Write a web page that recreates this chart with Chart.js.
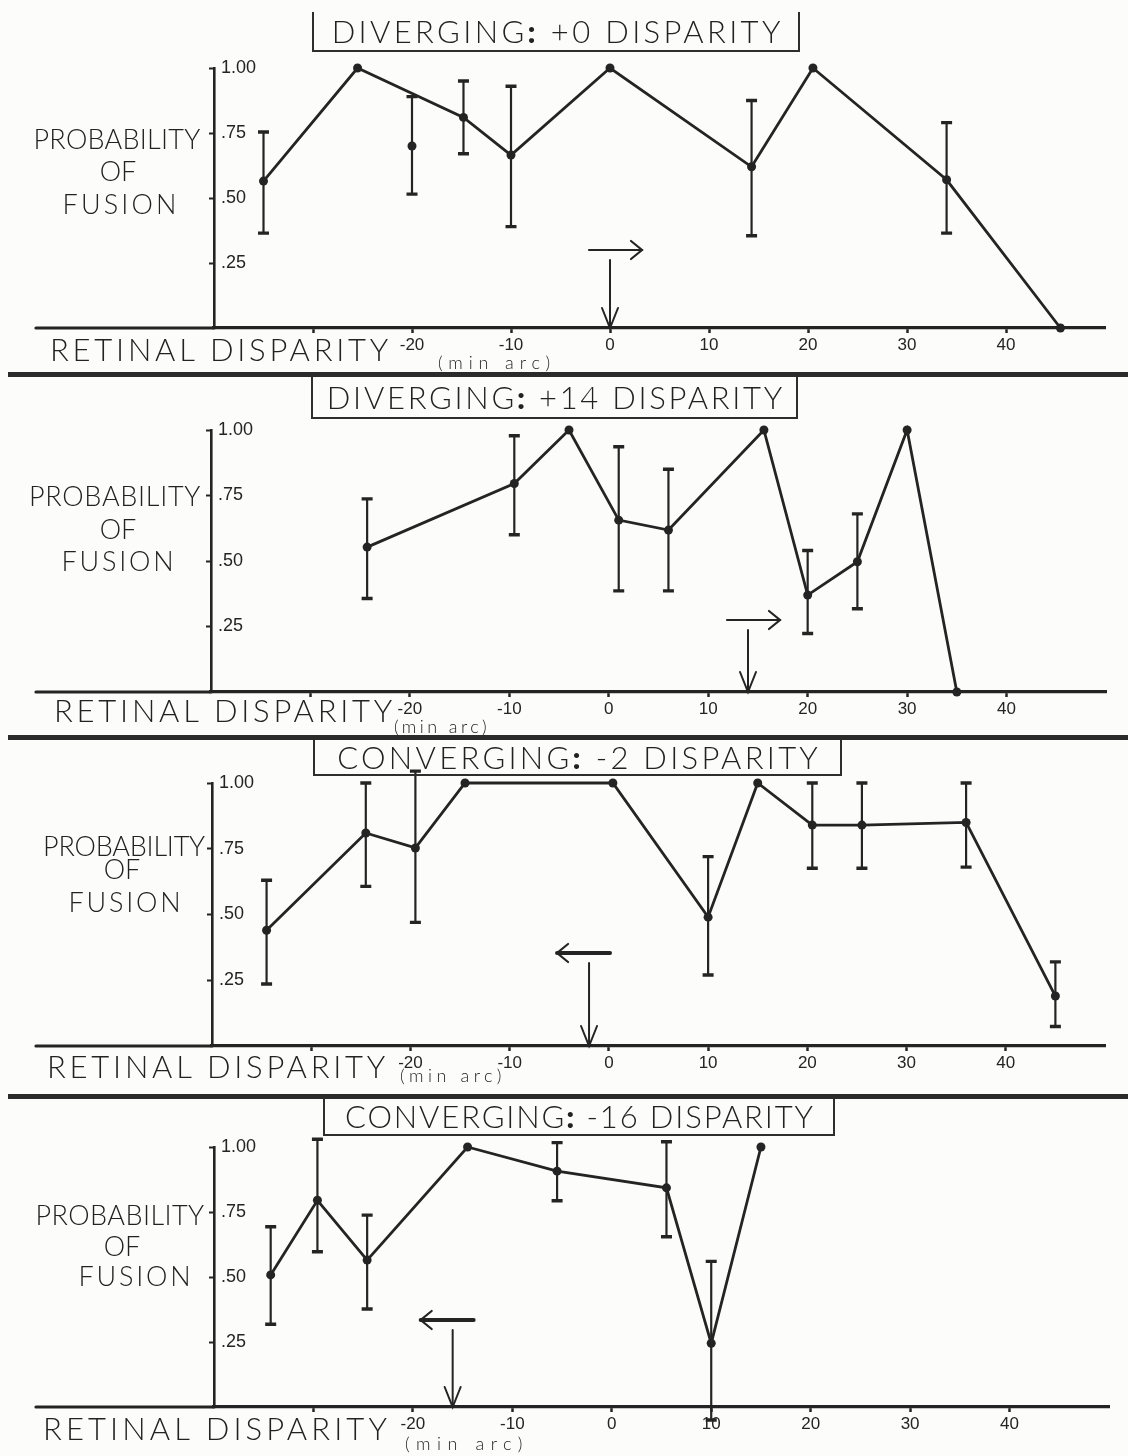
<!DOCTYPE html>
<html>
<head>
<meta charset="utf-8">
<script src="https://cdn.jsdelivr.net/npm/chart.js@4.4.1/dist/chart.umd.min.js"></script>
<style>
html,body{margin:0;padding:0;background:#fcfcfb;}
#page{position:relative;width:1128px;height:1456px;overflow:hidden;font-family:"Lato","Liberation Sans",Arial,sans-serif;font-weight:300;color:#222;}
canvas{position:absolute;left:0;}
.sep{position:absolute;left:8px;width:1120px;height:5px;background:#2b2b2b;}
.box{position:absolute;border:2px solid #2e2e2e;border-top:none;box-sizing:border-box;display:flex;align-items:center;justify-content:center;}
.box span{font-size:31px;white-space:nowrap;line-height:31px;}
.box b{font-weight:900;}
.lab{position:absolute;white-space:nowrap;line-height:1;}
</style>
</head>
<body>
<div id="page"></div>
<script>
// ---------- tick labels / text ----------
const xTickValues = [-30, -20, -10, 0, 10, 20, 30, 40];
const xTickLabels = ['', '-20', '-10', '0', '10', '20', '30', '40'];
const yTickValues = [0.25, 0.5, 0.75, 1.0];
const yTickLabels = ['.25', '.50', '.75', '1.00'];
const panelTitles = ['DIVERGING: +0 DISPARITY', 'DIVERGING: +14 DISPARITY', 'CONVERGING: -2 DISPARITY', 'CONVERGING: -16 DISPARITY'];
const yAxisTitle = ['PROBABILITY', 'OF', 'FUSION'];
const xAxisTitle = 'RETINAL DISPARITY';
const xAxisUnit = '(min arc)';

// disparity marked by the arrow in each panel, and direction of the horizontal arrow
const arrowAt = [0, 14, -2, -16];
const arrowDir = ['right', 'right', 'left', 'left'];

// ---------- panel 1: DIVERGING +0 ----------
const p1X  = [-35, -25.5, -20, -14.8, -10, 0, 14.3, 20.5, 34, 45.5];
const p1Y  = [0.565, 1.0, 0.70, 0.81, 0.665, 1.0, 0.62, 1.0, 0.57, 0];
const p1Lo = [0.365, null, 0.515, 0.67, 0.39, null, 0.355, null, 0.365, null];
const p1Hi = [0.754, null, 0.89, 0.95, 0.93, null, 0.875, null, 0.79, null];
const p1OnLine = [true, true, false, true, true, true, true, true, true, true];

// ---------- panel 2: DIVERGING +14 ----------
const p2X  = [-24.3, -9.5, -4, 1, 6, 15.6, 20, 25, 30, 35];
const p2Y  = [0.553, 0.796, 1.0, 0.656, 0.618, 1.0, 0.37, 0.497, 1.0, 0];
const p2Lo = [0.357, 0.60, null, 0.386, 0.386, null, 0.223, 0.318, null, null];
const p2Hi = [0.737, 0.978, null, 0.936, 0.85, null, 0.54, 0.68, null, null];
const p2OnLine = [true, true, true, true, true, true, true, true, true, true];

// ---------- panel 3: CONVERGING -2 ----------
const p3X  = [-34.5, -24.5, -19.5, -14.5, 0.4, 10, 15, 20.5, 25.5, 36, 45];
const p3Y  = [0.44, 0.81, 0.753, 1.0, 1.0, 0.49, 1.0, 0.84, 0.84, 0.85, 0.19];
const p3Lo = [0.236, 0.607, 0.47, null, null, 0.27, null, 0.676, 0.676, 0.68, 0.074];
const p3Hi = [0.63, 1.0, 1.045, null, null, 0.72, null, 1.0, 1.0, 1.0, 0.32];
const p3OnLine = [true, true, true, true, true, true, true, true, true, true, true];

// ---------- panel 4: CONVERGING -16 ----------
const p4X  = [-34.3, -29.6, -24.6, -14.5, -5.5, 5.5, 10, 15];
const p4Y  = [0.508, 0.795, 0.565, 1.0, 0.907, 0.843, 0.245, 1.0];
const p4Lo = [0.318, 0.597, 0.377, null, 0.793, 0.655, -0.05, null];
const p4Hi = [0.693, 1.03, 0.738, null, 1.017, 1.02, 0.56, null];
const p4OnLine = [true, true, true, true, true, true, true, true];

const series = [
  {x: p1X, y: p1Y, lo: p1Lo, hi: p1Hi, on: p1OnLine},
  {x: p2X, y: p2Y, lo: p2Lo, hi: p2Hi, on: p2OnLine},
  {x: p3X, y: p3Y, lo: p3Lo, hi: p3Hi, on: p3OnLine},
  {x: p4X, y: p4Y, lo: p4Lo, hi: p4Hi, on: p4OnLine}
];

// ---------- page layout (pixels) ----------
const INK = '#242424';
const panels = [
  {top: 0,    h: 372, area: {l: 214, r: 1105, t: 68,   b: 328},
   box: {l: 312, t: 12, w: 488, h: 40}, tw: 452,
   prob: [117, 140, 167], of: [118, 172], fus: [121, 205, 117],
   ret: [50, 351, 342], unit: [438, 363, 118], vLen: 68, hw: 2.2},
  {top: 372,  h: 365, area: {l: 211, r: 1106, t: 430,  b: 692},
   box: {l: 311, t: 377, w: 487, h: 42}, tw: 458,
   prob: [115, 497, 172], of: [118, 530], fus: [119, 562, 115],
   ret: [54, 712, 342], unit: [394, 727, 96], vLen: 62, hw: 2.2},
  {top: 737,  h: 358, area: {l: 212, r: 1105, t: 783,  b: 1046},
   box: {l: 313, t: 740, w: 529, h: 36}, tw: 484,
   prob: [124, 847, 162], of: [122, 870], fus: [126, 903, 115],
   ret: [47, 1068, 342], unit: [400, 1076, 106], vLen: 83, hw: 4},
  {top: 1095, h: 361, area: {l: 214, r: 1109, t: 1147, b: 1407},
   box: {l: 323, t: 1099, w: 512, h: 37}, tw: 470,
   prob: [120, 1216, 169], of: [122, 1247], fus: [136, 1277, 115],
   ret: [43, 1430, 348], unit: [405, 1444, 124], vLen: 77, hw: 4}
];
const separators = [372, 735, 1094];

const page = document.getElementById('page');

function addLabel(text, size, x, cy, width, center) {
  const d = document.createElement('div');
  d.className = 'lab';
  d.textContent = text;
  d.style.fontSize = size + 'px';
  page.appendChild(d);
  const nat = d.getBoundingClientRect().width;
  if (width) {
    const ls = (width - nat) / text.length;
    d.style.letterSpacing = ls.toFixed(2) + 'px';
  }
  const w = d.getBoundingClientRect().width;
  d.style.left = (center ? x - w / 2 : x) + 'px';
  d.style.top = (cy - size * 0.55) + 'px';
  return d;
}

// error bars drawn through the chart scales
const errorBarPlugin = {
  id: 'errorBars',
  afterDatasetsDraw(chart) {
    const s = chart.canvas.$series;
    if (!s) return;
    const xs = chart.scales.x, ys = chart.scales.y, ctx = chart.ctx;
    ctx.save();
    ctx.strokeStyle = INK;
    s.x.forEach((xv, i) => {
      if (s.lo[i] == null) return;
      const px = xs.getPixelForValue(xv);
      const pl = ys.getPixelForValue(s.lo[i]);
      const ph = ys.getPixelForValue(s.hi[i]);
      ctx.lineWidth = 2.2;
      ctx.beginPath(); ctx.moveTo(px, pl); ctx.lineTo(px, ph); ctx.stroke();
      ctx.lineWidth = 3.4;
      ctx.beginPath();
      ctx.moveTo(px - 5.5, pl); ctx.lineTo(px + 5.5, pl);
      ctx.moveTo(px - 5.5, ph); ctx.lineTo(px + 5.5, ph);
      ctx.stroke();
    });
    ctx.restore();
  }
};

// arrows marking the disparity + the axis extension left of the y axis
const decorPlugin = {
  id: 'decor',
  afterDraw(chart) {
    const k = chart.canvas.$idx;
    if (k == null) return;
    const L = panels[k];
    const xs = chart.scales.x, ys = chart.scales.y, ctx = chart.ctx;
    const y0 = ys.getPixelForValue(0);
    ctx.save();
    ctx.strokeStyle = INK;
    ctx.lineCap = 'round';
    // x axis continues to the left of the y axis
    ctx.lineWidth = 3.2;
    ctx.beginPath(); ctx.moveTo(36, y0); ctx.lineTo(chart.chartArea.left, y0); ctx.stroke();
    // vertical arrow
    const px = xs.getPixelForValue(arrowAt[k]);
    const top = y0 - L.vLen;
    ctx.lineWidth = 2;
    ctx.beginPath(); ctx.moveTo(px, top); ctx.lineTo(px, y0); ctx.stroke();
    ctx.beginPath(); ctx.moveTo(px - 8, y0 - 20); ctx.lineTo(px, y0); ctx.lineTo(px + 8, y0 - 20); ctx.stroke();
    // horizontal arrow
    const hy = top - 10;
    const dir = arrowDir[k] === 'right' ? 1 : -1;
    const x1 = px - dir * 21, x2 = px + dir * 32;
    ctx.lineWidth = L.hw;
    ctx.beginPath(); ctx.moveTo(x1, hy); ctx.lineTo(x2, hy); ctx.stroke();
    ctx.lineWidth = 2.2;
    ctx.beginPath(); ctx.moveTo(x2 - dir * 11, hy - 9); ctx.lineTo(x2, hy); ctx.lineTo(x2 - dir * 11, hy + 9); ctx.stroke();
    ctx.restore();
  }
};

panels.forEach((L, k) => {
  const s = series[k];
  const cv = document.createElement('canvas');
  cv.width = 1128; cv.height = L.h;
  cv.style.top = L.top + 'px';
  cv.$series = s;
  cv.$idx = k;
  page.appendChild(cv);

  const pts = s.x.map((xv, i) => ({x: xv, y: s.y[i]}));
  const linePts = pts.filter((p, i) => s.on[i]);
  const opts = {
    responsive: false, animation: false, events: [],
    layout: {padding: {left: 200, right: 20, top: 60, bottom: 40}},
    plugins: {legend: {display: false}, tooltip: {enabled: false}},
    scales: {
      x: {
        type: 'linear', min: -40, max: 50, position: 'bottom',
        afterBuildTicks: sc => { sc.ticks = xTickValues.map(v => ({value: v})); },
        ticks: {
          autoSkip: false, maxRotation: 0, padding: 2,
          color: INK, font: {family: 'Liberation Sans', size: 17},
          callback: v => { const i = xTickValues.indexOf(v); return i < 0 ? '' : xTickLabels[i]; }
        },
        grid: {drawOnChartArea: false, tickLength: 5, tickWidth: 2.5, color: INK},
        border: {display: true, width: 3.2, color: INK}
      },
      y: {
        type: 'linear', min: 0, max: 1, position: 'left',
        afterBuildTicks: sc => { sc.ticks = yTickValues.map(v => ({value: v})); },
        ticks: {
          mirror: true, padding: 7,
          color: INK, font: {family: 'Liberation Sans', size: 18},
          callback: v => { const i = yTickValues.indexOf(v); return i < 0 ? '' : yTickLabels[i]; }
        },
        grid: {drawOnChartArea: false, tickLength: 5, tickWidth: 2, color: INK},
        border: {display: true, width: 2.6, color: INK}
      }
    }
  };
  const chart = new Chart(cv, {
    type: 'scatter',
    data: {datasets: [
      {type: 'line', data: linePts, borderColor: INK, borderWidth: 2.8, pointRadius: 0, tension: 0, clip: false, fill: false},
      {type: 'scatter', data: pts, pointRadius: 4.5, backgroundColor: INK, borderWidth: 0, clip: false}
    ]},
    options: opts,
    plugins: [errorBarPlugin, decorPlugin]
  });
  // place the plot area where the reference has it
  const ca = chart.chartArea, want = L.area;
  const pad = opts.layout.padding;
  chart.config.options.layout.padding = {
    left: pad.left + (want.l - ca.left),
    right: pad.right + (ca.right - want.r),
    top: pad.top + ((want.t - L.top) - ca.top),
    bottom: pad.bottom + (ca.bottom - (want.b - L.top))
  };
  chart.update('none');

  // title box
  const b = document.createElement('div');
  b.className = 'box';
  b.style.left = L.box.l + 'px'; b.style.top = L.box.t + 'px';
  b.style.width = L.box.w + 'px'; b.style.height = L.box.h + 'px';
  const sp = document.createElement('span');
  sp.innerHTML = panelTitles[k].replace(':', '<b>:</b>');
  b.appendChild(sp);
  page.appendChild(b);
  const nat = sp.getBoundingClientRect().width;
  const ls = (L.tw - nat) / panelTitles[k].length;
  sp.style.letterSpacing = ls.toFixed(2) + 'px';
  sp.style.paddingLeft = ls.toFixed(2) + 'px';

  // axis titles
  addLabel(yAxisTitle[0], 27, L.prob[0], L.prob[1], L.prob[2], true);
  addLabel(yAxisTitle[1], 27, L.of[0], L.of[1], null, true);
  addLabel(yAxisTitle[2], 27, L.fus[0], L.fus[1], L.fus[2], true);
  addLabel(xAxisTitle, 31, L.ret[0], L.ret[1], L.ret[2], false);
  addLabel(xAxisUnit, 18, L.unit[0], L.unit[1], L.unit[2], false);
});

separators.forEach(y => {
  const d = document.createElement('div');
  d.className = 'sep';
  d.style.top = y + 'px';
  page.appendChild(d);
});
</script>
</body>
</html>
